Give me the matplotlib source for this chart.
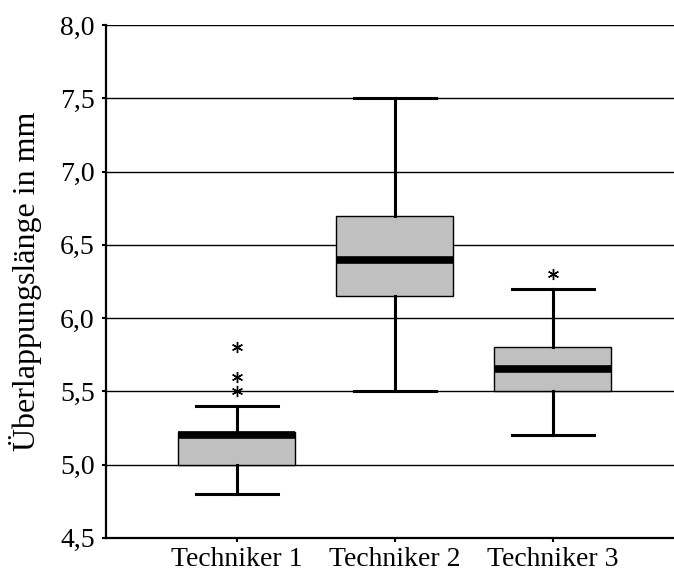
import matplotlib.pyplot as plt
from matplotlib.ticker import FuncFormatter

# values
labels = ['Techniker 1', 'Techniker 2', 'Techniker 3']
whisker_low = [4.8, 5.5, 5.2]
q1 = [5.0, 6.15, 5.5]
median = [5.2, 6.4, 5.65]
q3 = [5.22, 6.7, 5.8]
whisker_high = [5.4, 7.5, 6.2]
outliers = [[5.5, 5.6, 5.8], [], [6.3]]

plt.rcParams['font.family'] = ['Liberation Serif', 'DejaVu Serif']

stats = []
for i in range(len(labels)):
    stats.append({
        'label': labels[i],
        'whislo': whisker_low[i],
        'q1': q1[i],
        'med': median[i],
        'q3': q3[i],
        'whishi': whisker_high[i],
        'fliers': outliers[i],
    })

fig = plt.figure(figsize=(6.74, 5.71), dpi=100)
ax = fig.add_axes([0.157, 0.058, 0.843, 0.898])

ax.bxp(stats, positions=[1, 2, 3], widths=0.74, patch_artist=True,
       boxprops=dict(facecolor='#c0c0c0', edgecolor='black', linewidth=1.0),
       medianprops=dict(color='black', linewidth=5.5, solid_capstyle='butt'),
       whiskerprops=dict(color='black', linewidth=2.2),
       capprops=dict(color='black', linewidth=2.2),
       capwidths=0.52,
       flierprops=dict(marker=(6, 2, 0), markersize=8, markeredgecolor='black',
                       markeredgewidth=1.0, linestyle='none'),
       zorder=3)

ax.set_xlim(0.171, 3.766)
ax.set_ylim(4.5, 8.0)
ax.set_yticks([4.5, 5.0, 5.5, 6.0, 6.5, 7.0, 7.5, 8.0])
ax.yaxis.set_major_formatter(FuncFormatter(lambda v, p: f'{v:.1f}'.replace('.', ',')))
ax.yaxis.grid(True, color='black', linewidth=1.0, zorder=0)
ax.set_axisbelow(True)

ax.spines['top'].set_visible(False)
ax.spines['right'].set_visible(False)
ax.spines['left'].set_linewidth(1.6)
ax.spines['bottom'].set_linewidth(1.6)
ax.tick_params(axis='both', length=3, width=1.5, labelsize=20, colors='black')
ax.tick_params(axis='y', pad=5)
ax.set_xticklabels(labels)
ax.set_ylabel('Überlappungslänge in mm', fontsize=23)
ax.yaxis.set_label_coords(-0.112, 0.5)

fig.savefig('out.png', dpi=100)
